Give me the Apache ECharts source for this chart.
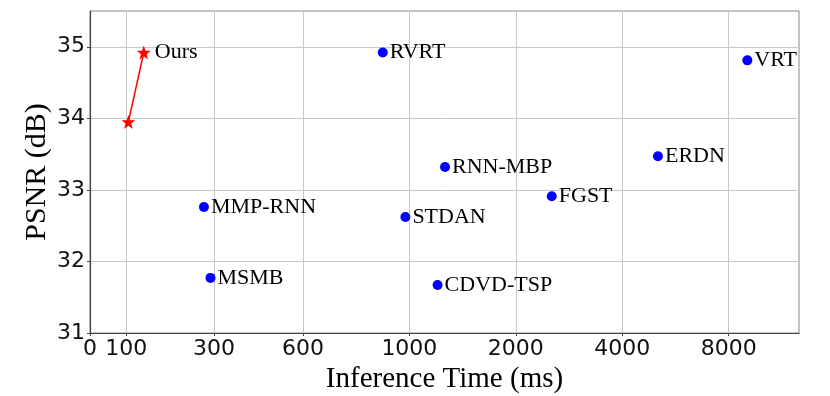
<!DOCTYPE html>
<html>
<head>
<meta charset="utf-8">
<script src="https://cdn.jsdelivr.net/npm/echarts@6/dist/echarts.min.js"></script>
<style>
  html, body { margin: 0; padding: 0; background: #fff; }
  #chart { width: 830px; height: 396px; }
</style>
</head>
<body>
<div id="chart"></div>
<script>
// x axis is a stretched scale: ticks sit at these values, at these slot positions
const tickValues = [0, 100, 300, 600, 1000, 2000, 4000, 8000];
const tickSlots = [0, 0.34, 1.165, 2, 3, 4, 5, 6];
const psnrTicks = [31, 32, 33, 34, 35];

const methods = ["RVRT", "VRT", "ERDN", "RNN-MBP", "FGST", "MMP-RNN", "STDAN", "MSMB", "CDVD-TSP"];
const methodTimes = [900, 8700, 5340, 1335, 2675, 277, 985, 292, 1265];
const methodPsnr = [34.92, 34.81, 33.47, 33.32, 32.91, 32.76, 32.62, 31.77, 31.67];

const oursTimes = [105, 140];
const oursPsnr = [33.95, 34.92];

function toSlot(ms) {
    const n = tickValues.length;
    for (let i = 0; i < n - 1; i++) {
        if (ms <= tickValues[i + 1]) {
            const t = (ms - tickValues[i]) / (tickValues[i + 1] - tickValues[i]);
            return tickSlots[i] + t * (tickSlots[i + 1] - tickSlots[i]);
        }
    }
    const slope = (tickSlots[n - 1] - tickSlots[n - 2]) / (tickValues[n - 1] - tickValues[n - 2]);
    return tickSlots[n - 1] + (ms - tickValues[n - 1]) * slope;
}

const serif = "'Liberation Serif', 'Times New Roman', Times, serif";
const sans = "'DejaVu Sans', sans-serif";

const chart = echarts.init(document.getElementById("chart"));
chart.setOption({
    animation: false,
    grid: {
        left: 90, right: 31, top: 11, bottom: 63,
        outerBoundsMode: "none",
        show: true, borderColor: "#888", borderWidth: 1
    },
    xAxis: {
        type: "value",
        min: 0,
        max: 6.66,
        name: "Inference Time (ms)",
        nameLocation: "middle",
        nameGap: 24,
        nameTextStyle: { fontFamily: serif, fontSize: 29, color: "#000" },
        axisLine: { lineStyle: { color: "#444", width: 1.2 } },
        axisTick: { show: true, length: 3, customValues: tickSlots, lineStyle: { color: "#444" } },
        axisLabel: {
            customValues: tickSlots,
            margin: 5,
            fontFamily: sans,
            fontSize: 22,
            color: "#111",
            formatter: (v) => {
                const i = tickSlots.findIndex((s) => Math.abs(s - v) < 1e-6);
                return i >= 0 ? String(tickValues[i]) : "";
            }
        },
        splitLine: { show: true, lineStyle: { color: "#c8c8c8", width: 1 } }
    },
    yAxis: {
        type: "value",
        min: 31,
        max: 35.5,
        name: "PSNR (dB)",
        nameLocation: "middle",
        nameGap: 38,
        nameMoveOverlap: false,
        nameTextStyle: { fontFamily: serif, fontSize: 30, color: "#000" },
        axisLine: { show: true, lineStyle: { color: "#444", width: 1.2 } },
        axisTick: { show: true, length: 3, customValues: psnrTicks, lineStyle: { color: "#444" } },
        axisLabel: { customValues: psnrTicks, margin: 5, fontFamily: sans, fontSize: 22, color: "#111" },
        splitLine: { show: true, lineStyle: { color: "#c8c8c8", width: 1 } }
    },
    series: [
        {
            name: "Methods",
            type: "scatter",
            symbol: "circle",
            symbolSize: 10,
            itemStyle: { color: "#0000ff", opacity: 1 },
            data: methods.map((m, i) => ({ name: m, value: [toSlot(methodTimes[i]), methodPsnr[i]] })),
            label: {
                show: true,
                position: "right",
                distance: 2,
                formatter: (p) => p.name,
                fontFamily: serif,
                fontSize: 22,
                color: "#000"
            }
        },
        {
            name: "Ours",
            type: "line",
            symbol: "path://M0,-10 L2.35,-3.24 L9.51,-3.09 L3.8,1.24 L5.88,8.09 L0,4 L-5.88,8.09 L-3.8,1.24 L-9.51,-3.09 L-2.35,-3.24 Z",
            symbolSize: 14,
            lineStyle: { color: "#ff0000", width: 1.5 },
            itemStyle: { color: "#ff0000", opacity: 1 },
            data: oursTimes.map((t, i) => ({
                value: [toSlot(t), oursPsnr[i]],
                label: {
                    show: i === oursTimes.length - 1,
                    position: "right",
                    distance: 4,
                    formatter: "Ours",
                    fontFamily: serif,
                    fontSize: 22,
                    color: "#000"
                }
            }))
        }
    ]
});
</script>
</body>
</html>
